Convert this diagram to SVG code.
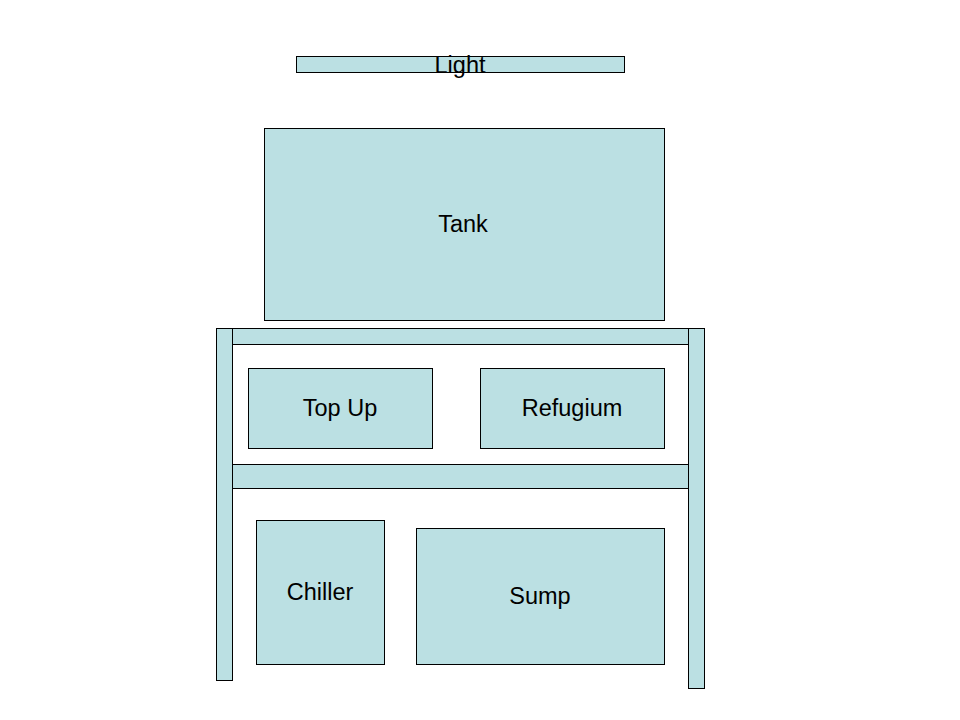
<svg xmlns="http://www.w3.org/2000/svg" width="960" height="720" viewBox="0 0 960 720">
<style>
.b{fill:#BBE0E3;stroke:#000;stroke-width:1}
.t{font-family:"Liberation Sans",Arial,sans-serif;font-size:23.5px;fill:#000;text-anchor:middle}
</style>
<rect width="960" height="720" fill="#fff"/>
<g id="light"><rect class="b" x="296.5" y="56.5" width="328" height="16"/><text class="t" x="460" y="73">Light</text></g>
<g id="tank"><rect class="b" x="264.5" y="128.5" width="400" height="192"/><text class="t" x="463" y="232">Tank</text></g>
<g id="leg-left"><rect class="b" x="216.5" y="328.5" width="16" height="352"/></g>
<g id="leg-right"><rect class="b" x="688.5" y="328.5" width="16" height="360"/></g>
<g id="shelf-top"><rect class="b" x="232.5" y="328.5" width="456" height="16"/></g>
<g id="shelf-mid"><rect class="b" x="232.5" y="464.5" width="456" height="24"/></g>
<g id="topup"><rect class="b" x="248.5" y="368.5" width="184" height="80"/><text class="t" x="340" y="416">Top Up</text></g>
<g id="refugium"><rect class="b" x="480.5" y="368.5" width="184" height="80"/><text class="t" x="572" y="416">Refugium</text></g>
<g id="chiller"><rect class="b" x="256.5" y="520.5" width="128" height="144"/><text class="t" x="320" y="600">Chiller</text></g>
<g id="sump"><rect class="b" x="416.5" y="528.5" width="248" height="136"/><text class="t" x="540" y="604">Sump</text></g>
<g id="connectors"></g>
</svg>
